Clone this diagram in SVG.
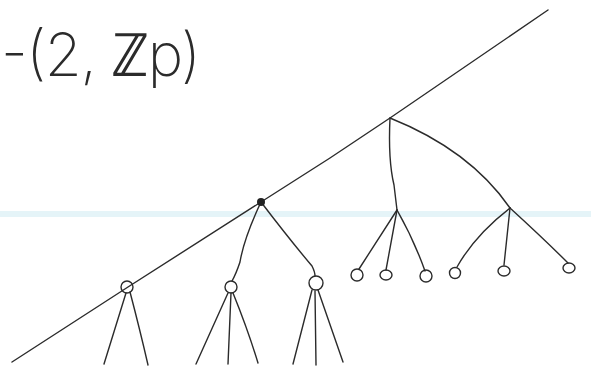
<svg xmlns="http://www.w3.org/2000/svg" width="591" height="374" viewBox="0 0 591 374">
<style>
.ln{fill:none;stroke:#2b2b2b;stroke-width:1.4;stroke-linecap:round;stroke-linejoin:round}
.nd{fill:none;stroke:#2b2b2b;stroke-width:1.4}
.lbl{font-family:Inter,"DejaVu Sans",sans-serif;font-weight:200;font-size:60px;fill:#2b2b2b}
</style>
<rect width="591" height="374" fill="#ffffff"/>
<rect x="0" y="211" width="591" height="6" fill="#dff1f6" opacity="0.8"/>
<text class="lbl" x="1" y="76" textLength="200" lengthAdjust="spacing">-(2, ℤp)</text>
<g id="connectors">
<path class="ln" d="M12,362 L128,287 L261,202 L330,158 L390,118 L548,10"/>
<path class="ln" d="M261,202 Q244,238 240,262 Q236,274 232,281"/>
<path class="ln" d="M261,202 Q290,240 312,266 Q315,272 315,276"/>
<path class="ln" d="M126,293 L104,364"/>
<path class="ln" d="M130,292 Q140,330 148,365"/>
<path class="ln" d="M228,293 L196,364"/>
<path class="ln" d="M231,293 L228,364"/>
<path class="ln" d="M233,293 Q248,330 258,363"/>
<path class="ln" d="M312,290 L293,364"/>
<path class="ln" d="M315,291 L316,365"/>
<path class="ln" d="M318,290 Q332,330 343,362"/>
<path class="ln" d="M390,118 Q388,160 394,185 L397,210"/>
<path class="ln" d="M390,118 Q470,150 510,208"/>
<path class="ln" d="M397,210 L359,269"/>
<path class="ln" d="M397,210 L386,270"/>
<path class="ln" d="M397,210 Q414,240 425,271"/>
<path class="ln" d="M510,208 Q475,235 457,267"/>
<path class="ln" d="M510,208 L504,265"/>
<path class="ln" d="M510,208 Q545,240 568,263"/>
</g>
<g id="dot"><circle cx="261" cy="202" r="4" fill="#222"/></g>
<g id="n1"><circle class="nd" cx="127" cy="287" r="6"/></g>
<g id="n2"><circle class="nd" cx="231" cy="287" r="6"/></g>
<g id="n3"><ellipse class="nd" cx="316" cy="283" rx="7" ry="7"/></g>
<g id="l1"><circle class="nd" cx="357" cy="275" r="6"/></g>
<g id="l2"><ellipse class="nd" cx="386" cy="275" rx="6" ry="5"/></g>
<g id="l3"><circle class="nd" cx="426" cy="276" r="6"/></g>
<g id="l4"><ellipse class="nd" cx="455" cy="273" rx="5.5" ry="5.5"/></g>
<g id="l5"><ellipse class="nd" cx="504" cy="271" rx="6" ry="5"/></g>
<g id="l6"><ellipse class="nd" cx="569" cy="268" rx="6" ry="5"/></g>
</svg>
